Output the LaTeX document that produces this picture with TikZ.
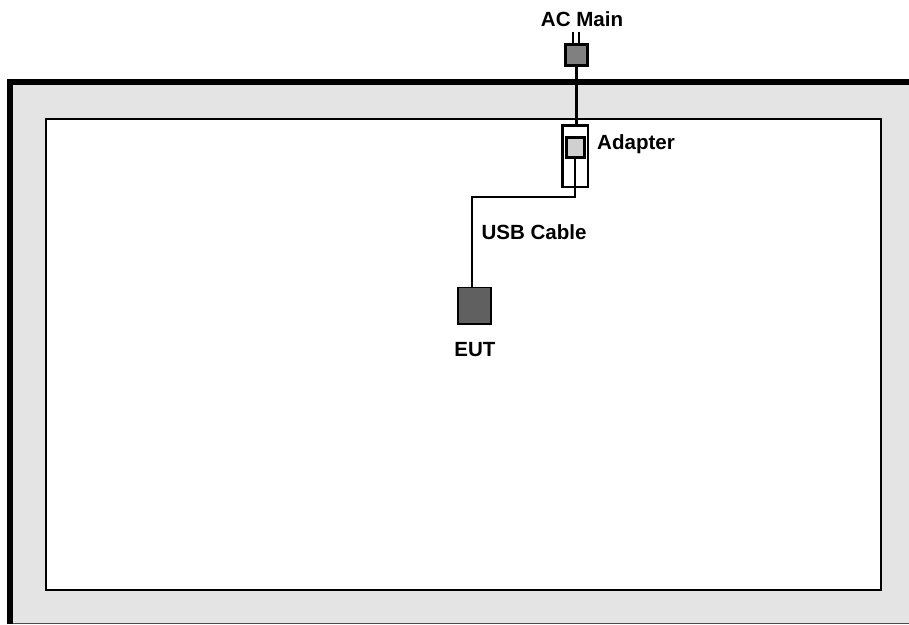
\documentclass[tikz,border=0pt]{standalone}
\usepackage{fontspec}
\setmainfont{Liberation Sans}
\definecolor{wall}{RGB}{228,228,228}
\definecolor{plugGray}{RGB}{128,128,128}
\definecolor{adapterGray}{RGB}{208,208,208}
\definecolor{eutGray}{RGB}{96,96,96}

\begin{document}
\begin{tikzpicture}[x=0.75pt, y=-0.75pt]
    % --- STYLES ---
    \tikzset{
        roomNode/.style={rectangle, draw=black, fill=white, line width=1pt, inner sep=0pt, minimum width=626.25pt, minimum height=353.25pt},
        plugNode/.style={rectangle, draw=black, fill=plugGray, line width=2.1pt, inner sep=0pt, minimum width=16.5pt, minimum height=15.75pt},
        adapterNode/.style={rectangle, draw=black, fill=white, line width=1.9pt, inner sep=0pt, minimum width=19.1pt, minimum height=46pt},
        coreNode/.style={rectangle, draw=black, fill=adapterGray, line width=2pt, inner sep=0pt, minimum width=13.5pt, minimum height=15.2pt},
        eutNode/.style={rectangle, draw=black, fill=eutGray, line width=1pt, inner sep=0pt, minimum width=24.75pt, minimum height=27.5pt},
        labelNode/.style={inner sep=0pt, font=\fontsize{15.4pt}{17pt}\selectfont\bfseries},
        mainLine/.style={draw=black, line width=2.3pt},
        prongLine/.style={draw=black, line width=1.9pt},
        usbLine/.style={draw=black, line width=1pt}
    }
    \useasboundingbox (0,0) rectangle (909,624);

    % --- WALLS ---
    \fill[wall] (10,82) rectangle (909,624);
    \draw[black!70, line width=0.9pt] (10,623.4) -- (909,623.4);
    \draw[black, line width=4.3pt] (10,624) -- (10,82) -- (909,82);

    % --- NODES ---
    \node[roomNode] (room) at (463.5,354.5) {};
    \node[plugNode] (plug) at (576.5,55) {};
    \node[adapterNode] (adapter) at (575.25,156.3) {};
    \node[coreNode] (core) at (575.3,147.6) {};
    \node[eutNode] (eut) at (474.5,305.5) {};

    \node[labelNode] (acLabel) at (582,19) {AC Main};
    \node[labelNode] (adapterLabel) at (636,144) {Adapter};
    \node[labelNode] (usbLabel) at (534,232) {USB Cable};
    \node[labelNode] (eutLabel) at (475,349.5) {EUT};

    % --- CONNECTORS ---
    \coordinate (prongA) at (573,32);
    \coordinate (prongB) at (578.8,32);
    \coordinate (cordTop) at (576.2,66);
    \coordinate (bendA) at (575,197);
    \coordinate (bendB) at (472,197);

    \draw[prongLine] (prongA) -- (prongA |- plug.north);
    \draw[prongLine] (prongB) -- (prongB |- plug.north);
    \draw[mainLine] (cordTop) -- (cordTop |- adapter.north);
    \draw[usbLine] (bendA |- core.south) -- (bendA) -- (bendB) -- (bendB |- eut.north);

\end{tikzpicture}
\end{document}
